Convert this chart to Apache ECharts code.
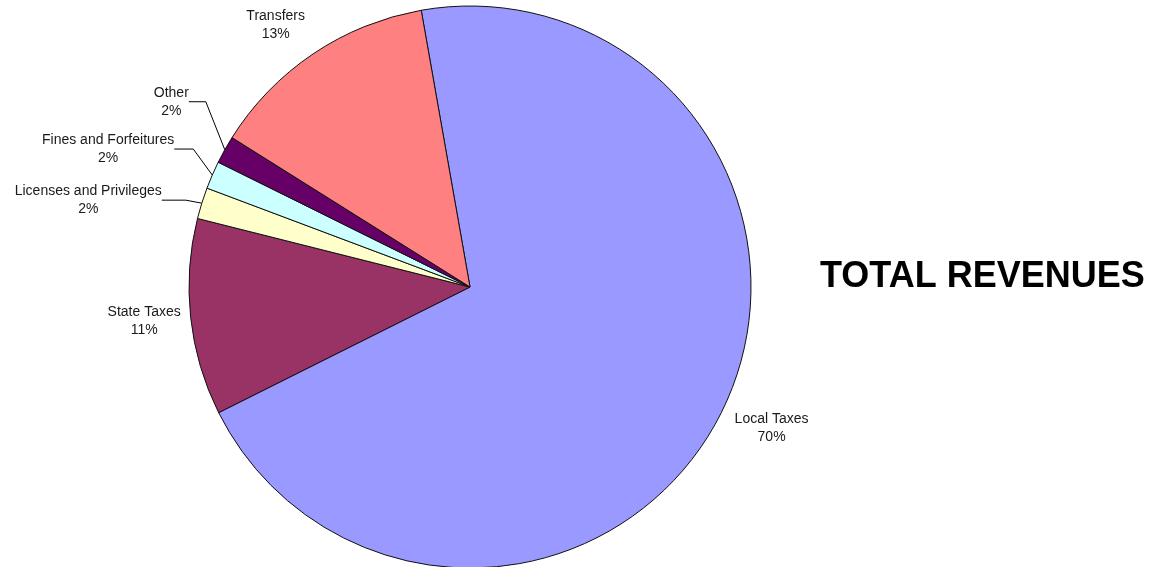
<!DOCTYPE html>
<html>
<head>
<meta charset="utf-8">
<title>Total Revenues</title>
<script src="https://cdn.jsdelivr.net/npm/echarts@6/dist/echarts.min.js"></script>
<style>
    html, body { margin: 0; padding: 0; background: #fff; }
    #chart { width: 1160px; height: 567px; }
</style>
</head>
<body>
<div id="chart"></div>
<script>
// 数据
const categories = ['Local Taxes', 'State Taxes', 'Licenses and Privileges', 'Fines and Forfeitures', 'Other', 'Transfers'];
const shares = [70.4, 11.3, 1.8, 1.6, 1.6, 13.3];
const sliceColors = ['#9999FF', '#993366', '#FFFFCC', '#CCFFFF', '#660066', '#FF8080'];

// 引导线折点偏移 [dx, dy, 水平段长度]，只对小扇区
const lineKinks = { 2: [-16, -3, 24], 3: [-19, -26, 19], 4: [-19, -48, 17] };
// 大扇区标签微调 [dx, dy]
const labelShifts = { 0: [0, 9], 1: [0, 3], 5: [0, -20] };
const labelLengths = [13, 8, 2, 2, 2, 11];

const fontFamily = '"Liberation Sans", Arial, sans-serif';

const chart = echarts.init(document.getElementById('chart'));

const pieData = categories.map((name, i) => ({
    name: name,
    value: shares[i],
    itemStyle: { color: sliceColors[i] },
    labelLine: {
        show: lineKinks[i] !== undefined,
        length: labelLengths[i],
        length2: 2
    }
}));

const option = {
    animation: false,
    backgroundColor: '#fff',
    title: {
        text: 'TOTAL REVENUES',
        left: 820,
        top: 258,
        padding: 0,
        textStyle: {
            fontFamily: fontFamily,
            fontSize: 36,
            fontWeight: 'bold',
            lineHeight: 38,
            color: '#000'
        }
    },
    series: [{
        type: 'pie',
        center: [470, 287],
        radius: 281,
        startAngle: 100,
        clockwise: true,
        avoidLabelOverlap: false,
        data: pieData,
        itemStyle: {
            borderColor: '#111',
            borderWidth: 1
        },
        emphasis: { disabled: true },
        label: {
            show: true,
            position: 'outside',
            overflow: 'none',
            distanceToLabelLine: 0,
            formatter: function (p) {
                return '{a|' + p.name + '}\n{a|' + Math.round(p.value) + '%}';
            },
            rich: {
                a: {
                    align: 'center',
                    fontFamily: fontFamily,
                    fontSize: 14,
                    lineHeight: 18,
                    color: '#1a1a1a'
                }
            }
        },
        labelLine: {
            lineStyle: { color: '#000', width: 1 }
        },
        labelLayout: function (params) {
            const i = params.dataIndex;
            const kink = lineKinks[i];
            if (kink && params.labelLinePoints) {
                const p = params.labelLinePoints;
                const p1 = [p[0][0] + kink[0], p[0][1] + kink[1]];
                const p2 = [p1[0] - kink[2], p1[1]];
                return {
                    dx: p2[0] - p[2][0],
                    dy: p2[1] - p[2][1],
                    labelLinePoints: [p[0], p1, p2]
                };
            }
            const s = labelShifts[i];
            if (s) {
                return { dx: s[0], dy: s[1] };
            }
            return {};
        }
    }]
};

chart.setOption(option);
</script>
</body>
</html>
